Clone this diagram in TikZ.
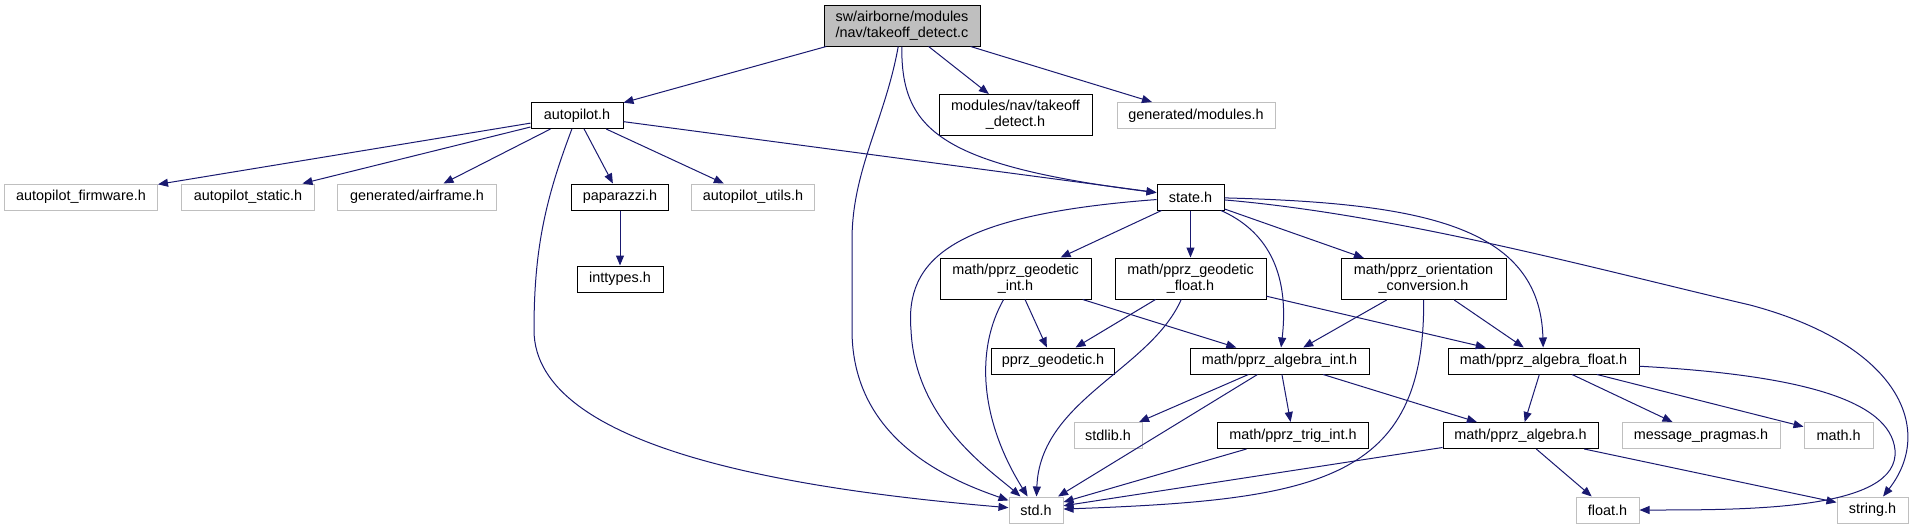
\documentclass[tikz,border=0pt]{standalone}
\usepackage{fontspec}
\setmainfont{Liberation Sans}
\usetikzlibrary{arrows.meta}
\definecolor{edgeblue}{HTML}{191970}
\definecolor{extgray}{HTML}{BFBFBF}
\definecolor{rootfill}{HTML}{BFBFBF}
\tikzset{
  filebox/.style={draw=black,fill=white,line width=0.75pt,inner sep=0pt,
                  minimum height=19.5pt,align=center,
                  font=\fontsize{10.8}{12}\selectfont},
  extbox/.style={filebox,draw=extgray},
  twoline/.style={minimum height=30.75pt},
  rootbox/.style={filebox,twoline,fill=rootfill},
  dep/.style={-{Triangle[length=7.5pt,width=6pt]},line width=0.75pt,
              draw=edgeblue}
}

\begin{document}
\begin{tikzpicture}[x=0.75pt,y=-0.75pt]
    \path[use as bounding box] (0,0) rectangle (1919,529);

    % top
    \node[rootbox,minimum width=117pt] (root) at (902,25.5)
      {sw/airborne/modules\\/nav/takeoff\_detect.c};

    % first level
    \node[filebox,minimum width=69pt] (autopilot) at (577,115.5) {autopilot.h};
    \node[filebox,twoline,minimum width=114.75pt] (takeoffh) at (1015.5,115)
      {modules/nav/takeoff\\\_detect.h};
    \node[extbox,minimum width=118.5pt] (genmodules) at (1196,115.5) {generated/modules.h};

    % second level
    \node[extbox,minimum width=114.75pt] (apfirmware) at (81,197) {autopilot\_firmware.h};
    \node[extbox,minimum width=99.75pt] (apstatic) at (248,197) {autopilot\_static.h};
    \node[extbox,minimum width=119.25pt] (genairframe) at (417,197) {generated/airframe.h};
    \node[filebox,minimum width=72.75pt] (paparazzi) at (620,197) {paparazzi.h};
    \node[extbox,minimum width=92.25pt] (aputils) at (753,197) {autopilot\_utils.h};
    \node[filebox,minimum width=50.25pt] (state) at (1190.5,197) {state.h};

    % third level
    \node[filebox,minimum width=64.5pt] (inttypes) at (620,279) {inttypes.h};
    \node[filebox,twoline,minimum width=113.25pt] (geoint) at (1015.5,278.5)
      {math/pprz\_geodetic\\\_int.h};
    \node[filebox,twoline,minimum width=113.25pt] (geofloat) at (1190.5,278.5)
      {math/pprz\_geodetic\\\_float.h};
    \node[filebox,twoline,minimum width=123.75pt] (orient) at (1423.5,279)
      {math/pprz\_orientation\\\_conversion.h};

    % fourth level
    \node[filebox,minimum width=92.25pt] (geodetic) at (1053,361) {pprz\_geodetic.h};
    \node[filebox,minimum width=134.25pt] (algint) at (1279.5,361) {math/pprz\_algebra\_int.h};
    \node[filebox,minimum width=143.25pt] (algfloat) at (1543.5,361) {math/pprz\_algebra\_float.h};

    % fifth level
    \node[extbox,minimum width=51pt] (stdlib) at (1108,435.5) {stdlib.h};
    \node[filebox,minimum width=113.25pt] (trigint) at (1293,435.5) {math/pprz\_trig\_int.h};
    \node[filebox,minimum width=116.25pt] (algebra) at (1520.5,435.5) {math/pprz\_algebra.h};
    \node[extbox,minimum width=118.5pt] (pragmas) at (1701,435.5) {message\_pragmas.h};
    \node[extbox,minimum width=51.75pt] (mathh) at (1838.5,435.5) {math.h};

    % bottom
    \node[extbox,minimum width=40.5pt] (stdh) at (1036,510) {std.h};
    \node[extbox,minimum width=47.25pt] (floath) at (1607.5,510) {float.h};
    \node[extbox,minimum width=53.25pt] (stringh) at (1872.5,510) {string.h};

    % includes of the .c file
    \draw[dep] (root) -- (autopilot);
    \draw[dep] (root) .. controls (885,120) and (852,170) .. (852,240)
      -- (852,330) .. controls (852,440) and (950,480) .. (stdh);
    \draw[dep] (root) .. controls (901,130) and (940,165) .. (state);
    \draw[dep] (root) -- (takeoffh);
    \draw[dep] (root) -- (genmodules);

    % autopilot.h
    \draw[dep] (autopilot) -- (apfirmware);
    \draw[dep] (autopilot) -- (apstatic);
    \draw[dep] (autopilot) -- (genairframe);
    \draw[dep] (autopilot) -- (paparazzi);
    \draw[dep] (autopilot) -- (aputils);
    \draw[dep] (autopilot) -- (state);
    \draw[dep] (autopilot) .. controls (545,200) and (534,250) .. (534,330)
      .. controls (534,450) and (800,490) .. (stdh);
    \draw[dep] (paparazzi) -- (inttypes);

    % state.h
    \draw[dep] (state) .. controls (950,215) and (905,260) .. (911,330)
      .. controls (915,420) and (990,470) .. (stdh);
    \draw[dep] (state) -- (geoint);
    \draw[dep] (state) -- (geofloat);
    \draw[dep] (state) .. controls (1265,230) and (1290,270) .. (algint);
    \draw[dep] (state) -- (orient);
    \draw[dep] (state) .. controls (1420,203) and (1540,225) .. (algfloat);
    \draw[dep] (state) .. controls (1400,215) and (1600,270) .. (1750,305)
      .. controls (1900,345) and (1935,430) .. (stringh);

    % geodetic and orientation
    \draw[dep] (geoint) -- (geodetic);
    \draw[dep] (geoint) .. controls (975,350) and (980,420) .. (stdh);
    \draw[dep] (geoint) -- (algint);
    \draw[dep] (geofloat) -- (geodetic);
    \draw[dep] (geofloat) .. controls (1150,370) and (1040,400) .. (stdh);
    \draw[dep] (geofloat) -- (algfloat);
    \draw[dep] (orient) -- (algint);
    \draw[dep] (orient) -- (algfloat);
    \draw[dep] (orient) .. controls (1425,480) and (1320,500) .. (stdh);

    % algebra
    \draw[dep] (algint) -- (stdlib);
    \draw[dep] (algint) -- (stdh);
    \draw[dep] (algint) -- (trigint);
    \draw[dep] (algint) -- (algebra);
    \draw[dep] (algfloat) -- (algebra);
    \draw[dep] (algfloat) -- (pragmas);
    \draw[dep] (algfloat) -- (mathh);
    \draw[dep] (algfloat) .. controls (1800,375) and (1890,400) .. (1895,450)
      .. controls (1900,510) and (1750,510) .. (floath);
    \draw[dep] (trigint) -- (stdh);
    \draw[dep] (algebra) -- (stdh);
    \draw[dep] (algebra) -- (floath);
    \draw[dep] (algebra) -- (stringh);
  \end{tikzpicture}
\end{document}
